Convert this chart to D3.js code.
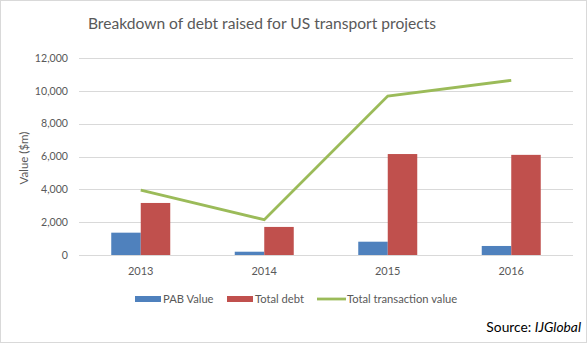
<!DOCTYPE html>
<html><head><meta charset="utf-8">
<script src="https://cdn.jsdelivr.net/npm/d3@7"></script>
<style>body{margin:0;background:#fff;}svg{display:block;font-family:Lato,"Open Sans",sans-serif;}</style>
</head><body>
<script>
const categories = ["2013","2014","2015","2016"];
const pabValue = [1360, 200, 810, 550];
const totalDebt = [3170, 1710, 6150, 6100];
const totalTransaction = [3950, 2150, 9680, 10640];
const yTicks = [0,2000,4000,6000,8000,10000,12000];
const seriesNames = ["PAB Value","Total debt","Total transaction value"];
const colors = ["#4f81bd","#c0504d","#9bbb59"];

const W=587,H=343;
const svg=d3.select("body").append("svg").attr("width",W).attr("height",H);
svg.append("rect").attr("x",0.5).attr("y",0.5).attr("width",W-1).attr("height",H-1).attr("fill","#fff").attr("stroke","#d9d9d9");

const x=d3.scaleBand().domain(categories).range([79,573]);
const y=d3.scaleLinear().domain([0,12000]).range([255,58]);
const sub=d3.scaleBand().domain([0,1]).range([0,59]);

svg.append("text").attr("x",262).attr("y",29).attr("text-anchor","middle").attr("font-size",15.6).attr("fill","#595959").text("Breakdown of debt raised for US transport projects");

const g=svg.append("g");
g.selectAll("line.grid").data(yTicks).join("line").attr("x1",79).attr("x2",573)
 .attr("y1",d=>Math.round(y(d))+0.5).attr("y2",d=>Math.round(y(d))+0.5).attr("stroke","#d9d9d9");
g.selectAll("text.yt").data(yTicks).join("text").attr("x",68).attr("y",d=>y(d)+3.8)
 .attr("text-anchor","end").attr("font-size",10.6).attr("fill","#595959").text(d=>d3.format(",")(d));

svg.append("text").attr("transform","translate(28,158) rotate(-90)").attr("text-anchor","middle")
 .attr("font-size",11.5).attr("fill","#595959").text("Value ($m)");

[pabValue,totalDebt].forEach((arr,i)=>{
  g.selectAll("rect.s"+i).data(arr).join("rect")
   .attr("x",(d,j)=>x(categories[j])+x.bandwidth()/2-29.5+sub(i))
   .attr("width",sub.bandwidth()).attr("y",d=>y(d)).attr("height",d=>y(0)-y(d)).attr("fill",colors[i]);
});

const line=d3.line().x((d,j)=>x(categories[j])+x.bandwidth()/2).y(d=>y(d));
g.append("path").attr("d",line(totalTransaction)).attr("fill","none").attr("stroke",colors[2]).attr("stroke-width",2.8);

g.selectAll("text.xt").data(categories).join("text").attr("x",d=>x(d)+x.bandwidth()/2).attr("y",275)
 .attr("text-anchor","middle").attr("font-size",11).attr("fill","#595959").text(d=>d);

const leg=[{x:135,t:"bar"},{x:227,t:"bar"},{x:317,t:"line"}];
leg.forEach((l,i)=>{
  if(l.t==="bar") svg.append("rect").attr("x",l.x).attr("y",296).attr("width",26).attr("height",6).attr("fill",colors[i]);
  else svg.append("line").attr("x1",l.x).attr("x2",l.x+29).attr("y1",299).attr("y2",299).attr("stroke",colors[i]).attr("stroke-width",2.8);
  svg.append("text").attr("x",l.x+(l.t==="bar"?28:30)).attr("y",303).attr("font-size",11.2).attr("fill","#595959").text(seriesNames[i]);
});

const src=svg.append("text").attr("x",581).attr("y",332).attr("text-anchor","end").attr("font-size",13.8).attr("fill","#000");
src.append("tspan").text("Source: ");
src.append("tspan").attr("font-style","italic").text("IJGlobal");
</script>
</body></html>
